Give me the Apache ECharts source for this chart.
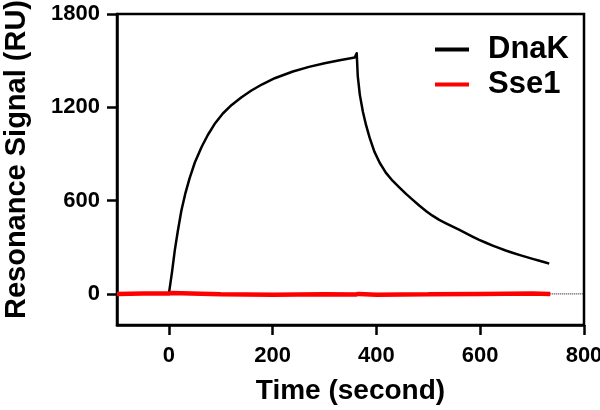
<!DOCTYPE html>
<html>
<head>
<meta charset="utf-8">
<script src="https://cdn.jsdelivr.net/npm/echarts@6/dist/echarts.min.js"></script>
<style>
  html, body { margin: 0; padding: 0; background: #fff; }
  #chart { width: 600px; height: 410px; }
</style>
</head>
<body>
<div id="chart"></div>
<script>
// tick labels
const xTicks = [0, 200, 400, 600, 800]
const yTicks = [0, 600, 1200, 1800]

// DnaK sensorgram: [time (s), RU] - association then dissociation
const dnakData = [
  [0, 0], [2, 5], [6, 140], [11.5, 283], [17, 400], [24, 535], [32, 650], [40, 745],
  [50, 845], [63, 945], [75, 1022], [88, 1092], [104, 1160], [121, 1215], [140, 1265],
  [159, 1308], [180, 1348], [204, 1387], [239, 1430], [270, 1460], [300, 1483],
  [329, 1502], [345, 1512], [358, 1520], [361, 1526], [362, 1548],
  [364, 1400], [368, 1280], [374, 1170], [380, 1085], [387, 1003], [396, 915],
  [406, 845], [418, 780], [431, 728], [444, 685], [457, 643], [470, 605], [483, 567],
  [496, 532], [508, 503], [521, 476], [534, 454], [547, 432], [560, 411], [572, 391],
  [585, 369], [598, 348], [611, 329], [624, 311], [637, 294], [649, 279], [662, 265],
  [675, 251], [688, 238], [701, 225], [714, 213], [726, 202], [733, 195]
]

// Sse1 sensorgram: essentially flat at baseline
const sse1Data = [
  [-100, 0], [-50, 3], [0, 2], [5, 5], [100, -2], [200, -5], [300, -3], [360, -4],
  [363, -14], [366, 0], [400, -5], [500, -3], [600, 0], [700, 2], [735, 0]
]

// baseline continuation (dotted)
const baselineData = [[735, 0], [800, 0]]

const FONT = "'Liberation Sans', Arial, Helvetica, sans-serif"

const chart = echarts.init(document.getElementById('chart'))
chart.setOption({
  animation: false,
  textStyle: { fontFamily: FONT },
  grid: {
    left: 117, right: 16, top: 14, bottom: 85,
    containLabel: false, outerBoundsMode: 'none',
    show: true, borderColor: '#000', borderWidth: 2.5
  },
  legend: {
    data: ['DnaK', 'Sse1'],
    orient: 'vertical',
    left: 430, top: 29,
    icon: 'rect',
    itemWidth: 34, itemHeight: 4,
    itemGap: 4,
    textStyle: { fontFamily: FONT, fontSize: 31, fontWeight: 'bold', color: '#000', lineHeight: 31, padding: [0, 0, 0, 14] }
  },
  xAxis: {
    type: 'value',
    min: -100, max: 800,
    name: 'Time (second)',
    nameLocation: 'middle',
    nameGap: 52,
    nameTextStyle: { fontFamily: FONT, fontSize: 28, fontWeight: 'bold', color: '#000' },
    splitLine: { show: false },
    axisLine: { onZero: false, lineStyle: { color: '#000', width: 2.5 } },
    axisTick: { show: true, length: 10, inside: false, customValues: xTicks, lineStyle: { color: '#000', width: 2.5 } },
    axisLabel: { customValues: xTicks, formatter: v => String(v), margin: 20, fontFamily: FONT, fontSize: 22, fontWeight: 'bold', color: '#000' }
  },
  yAxis: {
    type: 'value',
    min: -200, max: 1800,
    name: 'Resonance Signal (RU)',
    nameLocation: 'middle',
    nameGap: 86,
    nameTextStyle: { fontFamily: FONT, fontSize: 29, fontWeight: 'bold', color: '#000', padding: [0, 0, 0, 20] },
    splitLine: { show: false },
    axisLine: { show: true, onZero: false, lineStyle: { color: '#000', width: 2.5 } },
    axisTick: { show: true, length: 10, inside: false, customValues: yTicks, lineStyle: { color: '#000', width: 2.5 } },
    axisLabel: { customValues: yTicks, formatter: v => String(v), margin: 17, fontFamily: FONT, fontSize: 22, fontWeight: 'bold', color: '#000' }
  },
  series: [
    {
      name: 'baseline',
      type: 'line',
      data: baselineData,
      showSymbol: false,
      lineStyle: { color: '#000', width: 1, type: 'dotted' },
      z: 1
    },
    {
      name: 'DnaK',
      type: 'line',
      data: dnakData,
      showSymbol: false,
      color: '#000',
      lineStyle: { color: '#000', width: 2.5, join: 'round' },
      z: 2
    },
    {
      name: 'Sse1',
      type: 'line',
      data: sse1Data,
      showSymbol: false,
      color: '#ff0000',
      lineStyle: { color: '#ff0000', width: 4.5 },
      z: 3
    }
  ]
})
</script>
</body>
</html>
